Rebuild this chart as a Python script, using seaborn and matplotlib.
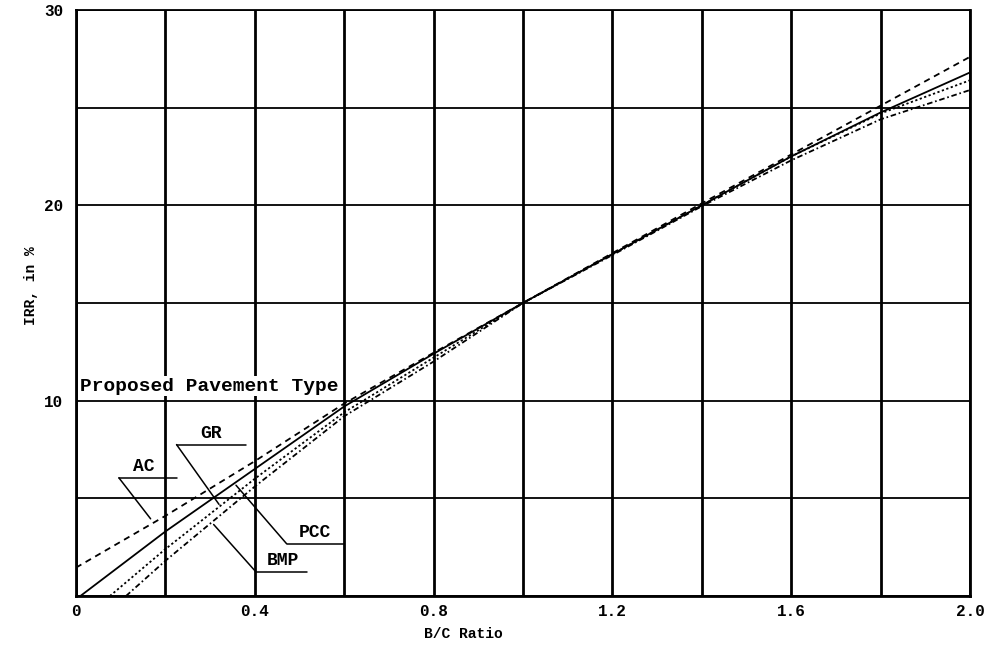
import numpy as np
import pandas as pd
import matplotlib
matplotlib.use("Agg")
import matplotlib.pyplot as plt
import seaborn as sns

# IRR (%) against benefit/cost ratio for each proposed pavement type
ac_bc = [0.0, 0.2, 0.4, 0.6, 0.8, 1.0, 1.2, 1.4, 1.6, 1.8, 2.0]
ac_irr = [1.45, 4.1, 6.9, 9.85, 12.45, 15.0, 17.55, 20.1, 22.6, 25.1, 27.6]

gr_bc = [0.01, 0.2, 0.4, 0.6, 0.8, 1.0, 1.2, 1.4, 1.6, 1.8, 2.0]
gr_irr = [0.0, 3.3, 6.5, 9.7, 12.4, 15.0, 17.5, 20.0, 22.5, 24.75, 26.8]

pcc_bc = [0.076, 0.2, 0.4, 0.6, 0.8, 1.0, 1.2, 1.4, 1.6, 1.8, 2.0]
pcc_irr = [0.0, 2.4, 6.0, 9.4, 12.2, 15.0, 17.5, 20.0, 22.5, 24.7, 26.4]

bmp_bc = [0.112, 0.2, 0.4, 0.6, 0.8, 1.0, 1.2, 1.4, 1.6, 1.8, 2.0]
bmp_irr = [0.0, 1.8, 5.6, 9.2, 12.0, 15.0, 17.45, 19.95, 22.3, 24.4, 25.9]

x_ticks = [0.0, 0.2, 0.4, 0.6, 0.8, 1.0, 1.2, 1.4, 1.6, 1.8, 2.0]
x_tick_labels = ["0", "", "0.4", "", "0.8", "", "1.2", "", "1.6", "", "2.0"]
y_ticks = [0, 5, 10, 15, 20, 25, 30]
y_tick_labels = ["", "", "10", "", "20", "", "30"]

sns.set_theme(style="white")
plt.rcParams["font.family"] = ["Liberation Mono", "DejaVu Sans Mono"]
plt.rcParams["font.weight"] = "bold"
plt.rcParams["lines.scale_dashes"] = False

fig = plt.figure(figsize=(9.89, 6.49), dpi=100)
ax = fig.add_axes([0.0768, 0.0817, 0.904, 0.903])

series = [
    ("AC", ac_bc, ac_irr, (0, (4.5, 3.5))),
    ("GR", gr_bc, gr_irr, "-"),
    ("PCC", pcc_bc, pcc_irr, (0, (1.6, 1.8))),
    ("BMP", bmp_bc, bmp_irr, (0, (4.0, 2.0, 1.2, 2.0))),
]
for name, xs, ys, ls in series:
    df = pd.DataFrame({"bc": xs, "irr": ys})
    sns.lineplot(data=df, x="bc", y="irr", ax=ax, color="black",
                 linestyle=ls, linewidth=1.3, sort=False, estimator=None)

ax.set_xlim(0, 2.0)
ax.set_ylim(0, 30)
ax.set_xticks(x_ticks)
ax.set_xticklabels(x_tick_labels)
ax.set_yticks(y_ticks)
ax.set_yticklabels(y_tick_labels)
ax.tick_params(length=0, labelsize=11.5, colors="black")
ax.tick_params(axis="x", pad=6)
ax.tick_params(axis="y", pad=9)

ax.set_axisbelow(True)
ax.grid(True, axis="x", color="black", linewidth=2.0)
ax.grid(True, axis="y", color="black", linewidth=1.3)
for side in ["left", "bottom", "right"]:
    ax.spines[side].set_color("black")
    ax.spines[side].set_linewidth(2.0)
ax.spines["top"].set_color("black")
ax.spines["top"].set_linewidth(1.3)

ax.set_xlabel("B/C Ratio", fontsize=10.5, fontweight="bold", color="black")
ax.set_ylabel("IRR, in %", fontsize=10.5, fontweight="bold", color="black")
ax.xaxis.set_label_coords(0.433, -0.053)
ax.yaxis.set_label_coords(-0.043, 0.53)

ax.text(0.008, 10.3, "Proposed Pavement Type", fontsize=14, fontweight="bold",
        ha="left", va="bottom", color="black",
        bbox=dict(facecolor="white", edgecolor="none", pad=1.0))

# callout labels with underline and leader line
callouts = [
    ("AC", 0.151, 6.2, (0.096, 0.225), 6.05, (0.096, 6.05), (0.167, 3.95)),
    ("GR", 0.301, 7.9, (0.225, 0.380), 7.75, (0.225, 7.75), (0.320, 4.69)),
    ("PCC", 0.535, 2.83, (0.471, 0.600), 2.68, (0.471, 2.68), (0.358, 5.67)),
    ("BMP", 0.463, 1.4, (0.402, 0.517), 1.25, (0.402, 1.25), (0.308, 3.66)),
]
for label, tx, ty, (ux0, ux1), uy, p0, p1 in callouts:
    ax.text(tx, ty, label, fontsize=13, fontweight="bold", ha="center",
            va="bottom", color="black")
    ax.plot([ux0, ux1], [uy, uy], color="black", linewidth=1.1)
    ax.plot([p0[0], p1[0]], [p0[1], p1[1]], color="black", linewidth=1.1)

fig.savefig("out.png", dpi=100, facecolor="white")
